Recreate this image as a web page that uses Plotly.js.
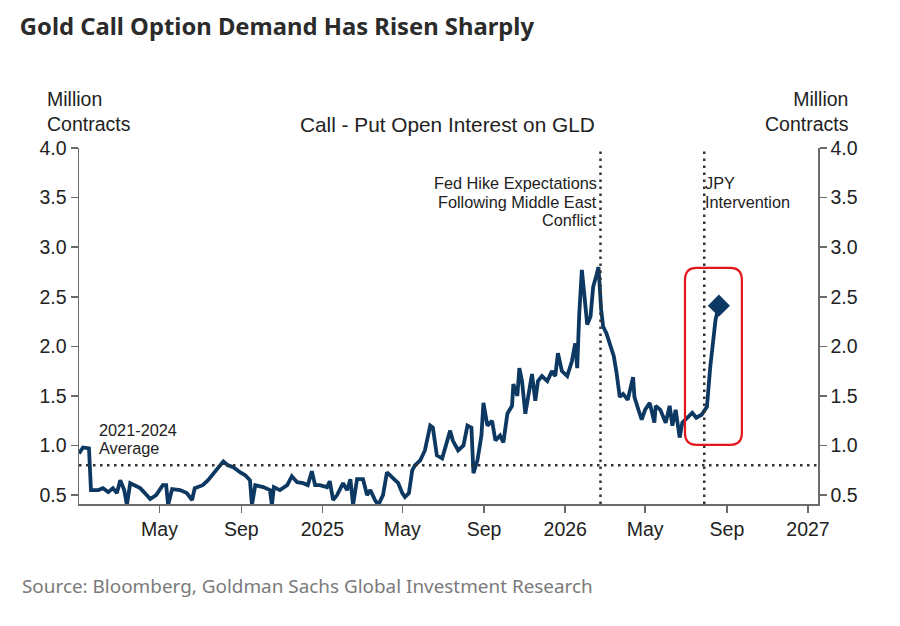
<!DOCTYPE html>
<html>
<head>
<meta charset="utf-8">
<script src="https://cdn.plot.ly/plotly-3.0.1.min.js"></script>
<style>
  html, body { margin: 0; padding: 0; background: #ffffff; }
  #chart { width: 900px; height: 626px; }
</style>
</head>
<body>
<div id="chart"></div>
<script>
// Call - Put open interest on GLD (million contracts)
var dates = [
  '2024-01-01','2024-01-07','2024-01-16','2024-01-19','2024-01-30','2024-02-06','2024-02-14','2024-02-21','2024-02-27','2024-03-03',
  '2024-03-09','2024-03-13','2024-03-18','2024-03-25','2024-04-02','2024-04-09','2024-04-17','2024-04-26','2024-05-06','2024-05-11',
  '2024-05-14','2024-05-20','2024-06-01','2024-06-11','2024-06-19','2024-06-23','2024-07-05','2024-07-13','2024-07-21','2024-07-28',
  '2024-08-05','2024-08-12','2024-08-20','2024-08-30','2024-09-07','2024-09-14','2024-09-17','2024-09-22','2024-10-04','2024-10-14',
  '2024-10-17','2024-10-20','2024-10-29','2024-11-09','2024-11-16','2024-11-24','2024-12-03','2024-12-10','2024-12-16','2024-12-21',
  '2024-12-28','2025-01-08','2025-01-12','2025-01-17','2025-01-23','2025-02-01','2025-02-07','2025-02-12','2025-02-16','2025-02-22',
  '2025-03-03','2025-03-09','2025-03-14','2025-03-21','2025-03-26','2025-04-02','2025-04-08','2025-04-17','2025-04-25','2025-05-01',
  '2025-05-05','2025-05-11','2025-05-16','2025-05-20','2025-05-28','2025-06-04','2025-06-12','2025-06-16','2025-06-22','2025-06-30',
  '2025-07-07','2025-07-12','2025-07-16','2025-07-24','2025-08-01','2025-08-07','2025-08-13','2025-08-16','2025-08-22','2025-08-28',
  '2025-08-31','2025-09-06','2025-09-13','2025-09-18','2025-09-25','2025-09-30','2025-10-06','2025-10-13','2025-10-15','2025-10-21',
  '2025-10-24','2025-10-28','2025-11-02','2025-11-06','2025-11-12','2025-11-17','2025-11-21','2025-11-27','2025-12-05','2025-12-12',
  '2025-12-17','2025-12-21','2025-12-27','2026-01-04','2026-01-11','2026-01-16','2026-01-19','2026-01-22','2026-01-26','2026-01-30',
  '2026-02-03','2026-02-08','2026-02-12','2026-02-17','2026-02-20','2026-02-24','2026-02-27','2026-03-04','2026-03-10','2026-03-15',
  '2026-03-19','2026-03-24','2026-03-29','2026-04-05','2026-04-13','2026-04-15','2026-04-21','2026-04-26','2026-05-01','2026-05-08',
  '2026-05-15','2026-05-17','2026-05-24','2026-06-01','2026-06-07','2026-06-11','2026-06-16','2026-06-22','2026-06-26','2026-07-03',
  '2026-07-11','2026-07-17','2026-07-25','2026-08-02','2026-08-07','2026-08-15','2026-08-20'
];
var callPut = [
  0.92,0.98,0.97,0.55,0.55,0.57,0.53,0.57,0.52,0.65,
  0.55,0.40,0.62,0.60,0.57,0.52,0.46,0.50,0.60,0.60,
  0.40,0.56,0.55,0.52,0.45,0.57,0.60,0.65,0.72,0.77,
  0.84,0.80,0.78,0.73,0.70,0.65,0.40,0.60,0.58,0.55,
  0.40,0.58,0.55,0.60,0.69,0.63,0.62,0.60,0.74,0.60,
  0.60,0.58,0.64,0.45,0.50,0.62,0.55,0.66,0.40,0.66,
  0.66,0.50,0.55,0.45,0.40,0.50,0.73,0.67,0.62,0.52,
  0.48,0.52,0.75,0.80,0.85,0.95,1.20,1.18,0.90,0.87,
  1.05,1.15,1.05,0.95,1.00,1.20,1.18,0.72,0.85,1.10,
  1.43,1.20,1.25,1.05,1.10,1.03,1.32,1.40,1.62,1.50,
  1.78,1.65,1.32,1.50,1.72,1.45,1.65,1.70,1.65,1.75,
  1.70,1.93,1.75,1.70,1.85,2.03,1.78,2.32,2.77,2.50,
  2.22,2.30,2.60,2.72,2.80,2.37,2.20,2.13,2.00,1.90,
  1.74,1.49,1.52,1.46,1.69,1.49,1.36,1.26,1.36,1.43,
  1.23,1.40,1.36,1.23,1.40,1.20,1.36,1.08,1.23,1.28,
  1.33,1.28,1.31,1.39,1.79,2.27,2.41
];
var avg2021_2024 = 0.8;
var eventDates = ['2026-02-23', '2026-07-29'];
var fedLabelLines = ['Fed Hike Expectations', 'Following Middle East', 'Conflict'];
var jpyLabelLines = ['JPY', 'Intervention'];
var avgLabelLines = ['2021-2024', 'Average'];
var tickDates = ['2024-05-01','2024-09-01','2025-01-01','2025-05-01','2025-09-01','2026-01-01','2026-05-01','2026-09-01','2027-01-01'];
var tickLabels = ['May','Sep','2025','May','Sep','2026','May','Sep','2027'];
var yTicks = [0.5,1.0,1.5,2.0,2.5,3.0,3.5,4.0];
var yTickLabels = ['0.5','1.0','1.5','2.0','2.5','3.0','3.5','4.0'];

var navy = '#0d3862';
var axisColor = '#6b6b6b';
var txt = '#222222';
var arial = 'Liberation Sans, Arial, sans-serif';
var tickFont = {family: arial, size: 19.5, color: txt};

var lastIdx = dates.length - 1;
var traces = [
  {x: dates, y: callPut, type: 'scatter', mode: 'lines', line: {color: navy, width: 3.8}, hoverinfo: 'skip', showlegend: false},
  {x: [dates[lastIdx]], y: [callPut[lastIdx]], type: 'scatter', mode: 'markers',
   marker: {symbol: 'diamond', size: 17, color: navy}, hoverinfo: 'skip', showlegend: false},
  {x: dates, y: callPut, type: 'scatter', mode: 'lines', yaxis: 'y2', line: {color: 'rgba(0,0,0,0)', width: 0}, hoverinfo: 'skip', showlegend: false}
];

var yAxisCommon = {
  range: [0.41, 4.0], tickvals: yTicks, ticktext: yTickLabels,
  showgrid: false, zeroline: false, showline: true, linecolor: axisColor, linewidth: 1.5,
  ticks: 'outside', ticklen: 7, tickwidth: 1.5, tickcolor: axisColor, tickfont: tickFont, fixedrange: true
};

var dotLine = {color: '#333333', width: 2.5, dash: '2.5px,4.5px'};
var shapes = [
  {type: 'line', xref: 'paper', x0: 0, x1: 1, yref: 'y', y0: avg2021_2024, y1: avg2021_2024, line: dotLine},
  {type: 'line', xref: 'x', x0: eventDates[0], x1: eventDates[0], yref: 'paper', y0: 0, y1: 1, line: dotLine},
  {type: 'line', xref: 'x', x0: eventDates[1], x1: eventDates[1], yref: 'paper', y0: 0, y1: 1, line: dotLine},
  // highlight box (rounded) around the latest surge
  {type: 'path', xref: 'paper', yref: 'paper',
   path: 'M 0.836 0.166 L 0.881 0.166 Q 0.897 0.166 0.897 0.200 L 0.897 0.629 Q 0.897 0.663 0.881 0.663 L 0.836 0.663 Q 0.820 0.663 0.820 0.629 L 0.820 0.200 Q 0.820 0.166 0.836 0.166 Z',
   line: {color: '#e3161d', width: 2.2}, fillcolor: 'rgba(0,0,0,0)'}
];

var annFont = {family: arial, size: 16.3, color: txt};
var lineYs = [0.9017, 0.8497, 0.7978];
var annotations = [];
fedLabelLines.forEach(function (t, i) {
  annotations.push({xref: 'x', x: eventDates[0], yref: 'paper', y: lineYs[i], text: t, showarrow: false,
    xanchor: 'right', yanchor: 'middle', align: 'right', xshift: -2, borderpad: 0, font: annFont});
});
jpyLabelLines.forEach(function (t, i) {
  annotations.push({xref: 'x', x: eventDates[1], yref: 'paper', y: lineYs[i], text: t, showarrow: false,
    xanchor: 'left', yanchor: 'middle', align: 'left', xshift: 0, borderpad: 0, font: annFont});
});
var avgYs = [0.2079, 0.1559];
avgLabelLines.forEach(function (t, i) {
  annotations.push({xref: 'paper', x: 0.026, yref: 'paper', y: avgYs[i], text: t, showarrow: false,
    xanchor: 'left', yanchor: 'middle', align: 'left', borderpad: 0, font: annFont});
});
annotations.push(
  {xref: 'paper', x: -0.046, yref: 'paper', y: 1.175, text: 'Million<br>Contracts', showarrow: false,
   xanchor: 'left', yanchor: 'top', align: 'left', font: {family: arial, size: 19.5, color: txt}},
  {xref: 'paper', x: 1.044, yref: 'paper', y: 1.175, text: 'Million<br>Contracts', showarrow: false,
   xanchor: 'right', yanchor: 'top', align: 'right', font: {family: arial, size: 19.5, color: txt}},
  {xref: 'paper', x: 0.4985, yref: 'paper', y: 1.067, text: 'Call - Put Open Interest on GLD', showarrow: false,
   xanchor: 'center', yanchor: 'middle', font: {family: arial, size: 20.8, color: txt}},
  {xref: 'paper', x: -0.080, yref: 'paper', y: -0.230, text: 'Source: Bloomberg, Goldman Sachs Global Investment Research', showarrow: false,
   xanchor: 'left', yanchor: 'middle', font: {family: 'Noto Sans, sans-serif', size: 18.9, color: '#7a7a7a'}}
);

var layout = {
  width: 900, height: 626,
  margin: {l: 79, r: 82, t: 148, b: 122, pad: 0},
  paper_bgcolor: '#ffffff', plot_bgcolor: '#ffffff',
  title: {text: '<b>Gold Call Option Demand Has Risen Sharply</b>', xref: 'container', yref: 'container',
          x: 0.022, xanchor: 'left', y: 0.957, yanchor: 'middle',
          font: {family: 'Noto Sans, sans-serif', size: 23.8, color: '#2b2b2b'}},
  xaxis: {type: 'date', range: ['2024-01-01', '2027-01-16'], tickvals: tickDates, ticktext: tickLabels,
          showgrid: false, zeroline: false, showline: true, linecolor: axisColor, linewidth: 1.5,
          ticks: 'outside', ticklen: 7, tickwidth: 1.5, tickcolor: axisColor, tickfont: tickFont, fixedrange: true},
  yaxis: Object.assign({side: 'left'}, yAxisCommon),
  yaxis2: Object.assign({side: 'right', overlaying: 'y'}, yAxisCommon),
  shapes: shapes,
  annotations: annotations,
  showlegend: false
};

Plotly.newPlot('chart', traces, layout, {displayModeBar: false, staticPlot: true});
</script>
</body>
</html>
